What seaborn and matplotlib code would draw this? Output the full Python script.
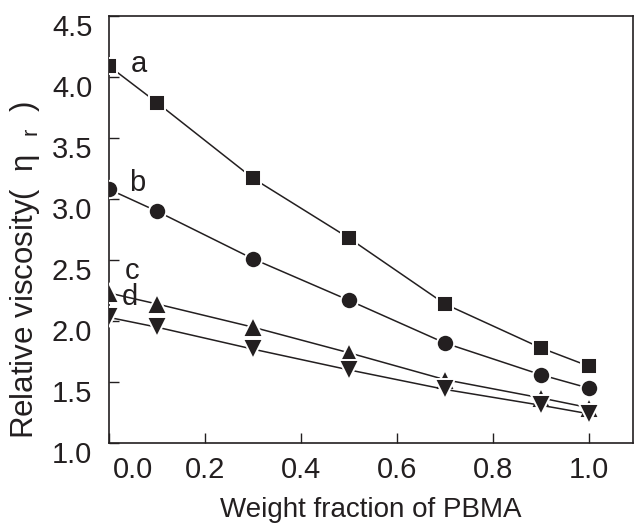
import numpy as np
import pandas as pd
import matplotlib
matplotlib.use("Agg")
import matplotlib.pyplot as plt
import matplotlib.transforms as mtransforms
import seaborn as sns

# ---- data ----
x_frac = [0.0, 0.1, 0.3, 0.5, 0.7, 0.9, 1.0]
series_a = [4.09, 3.79, 3.17, 2.68, 2.14, 1.78, 1.63]
series_b = [3.08, 2.90, 2.51, 2.17, 1.82, 1.56, 1.45]
series_c = [2.23, 2.14, 1.95, 1.74, 1.52, 1.37, 1.29]
series_d = [2.03, 1.95, 1.77, 1.60, 1.44, 1.31, 1.24]
series_names = ["a", "b", "c", "d"]
x_ticks = [0.0, 0.2, 0.4, 0.6, 0.8, 1.0]
y_ticks = [1.0, 1.5, 2.0, 2.5, 3.0, 3.5, 4.0, 4.5]

sns.set_style("white")
plt.rcParams["font.family"] = ["Liberation Sans", "DejaVu Sans"]

fig = plt.figure(figsize=(6.35, 5.25), dpi=100)
ax = fig.add_axes([0.1717, 0.156, 0.997 - 0.1717, 0.9695 - 0.156])

styles = {
    "a": dict(marker="s", ms=11.5),
    "b": dict(marker="o", ms=12.5),
    "c": dict(marker="^", ms=14),
    "d": dict(marker="v", ms=14),
}
values = {"a": series_a, "b": series_b, "c": series_c, "d": series_d}

for name in series_names:
    df = pd.DataFrame({"x": x_frac, "y": values[name]})
    sns.lineplot(data=df, x="x", y="y", ax=ax, color="#231f20", lw=1.1,
                 marker=styles[name]["marker"], markersize=styles[name]["ms"],
                 markeredgecolor="white", markeredgewidth=1.4,
                 markerfacecolor="#231f20", zorder=3)
for ln in ax.lines:
    ln.set_clip_on(True)

# curve labels
label_pos = {"a": (0.045, 4.11), "b": (0.042, 3.13), "c": (0.032, 2.41), "d": (0.026, 2.20)}
for name in series_names:
    lx, ly = label_pos[name]
    ax.text(lx, ly, name, fontsize=21, color="#231f20", ha="left", va="center")

ax.set_xlim(0.0, 1.092)
ax.set_ylim(1.0, 4.5)
ax.set_xticks(x_ticks)
ax.set_yticks(y_ticks)
ax.set_xticklabels([f"{t:.1f}" for t in x_ticks])
ax.set_yticklabels([f"{t:.1f}" for t in y_ticks])

ax.tick_params(axis="both", direction="in", length=7, width=1.0, color="#231f20",
               labelsize=21, labelcolor="#231f20")
ax.tick_params(axis="y", pad=12, left=True)
ax.tick_params(axis="x", pad=9, bottom=True)

# shift first x tick label right and y tick labels down, as in reference
offset_x = mtransforms.ScaledTranslation(24 / 100, 0, fig.dpi_scale_trans)
lbl0 = ax.get_xticklabels()[0]
lbl0.set_transform(lbl0.get_transform() + offset_x)
offset_y = mtransforms.ScaledTranslation(0, -9 / 100, fig.dpi_scale_trans)
for lbl in ax.get_yticklabels():
    lbl.set_transform(lbl.get_transform() + offset_y)

for s in ax.spines.values():
    s.set_color("#231f20")
    s.set_linewidth(1.2)
    s.set_visible(True)

ax.set_xlabel("Weight fraction of PBMA", fontsize=20, color="#231f20", labelpad=10)
ax.set_ylabel("Relative viscosity(  η  $\\mathregular{_{r}}$  )", fontsize=22.5, color="#231f20")
ax.yaxis.set_label_coords(-0.128, 0.405)

fig.savefig("out.png", dpi=100)
